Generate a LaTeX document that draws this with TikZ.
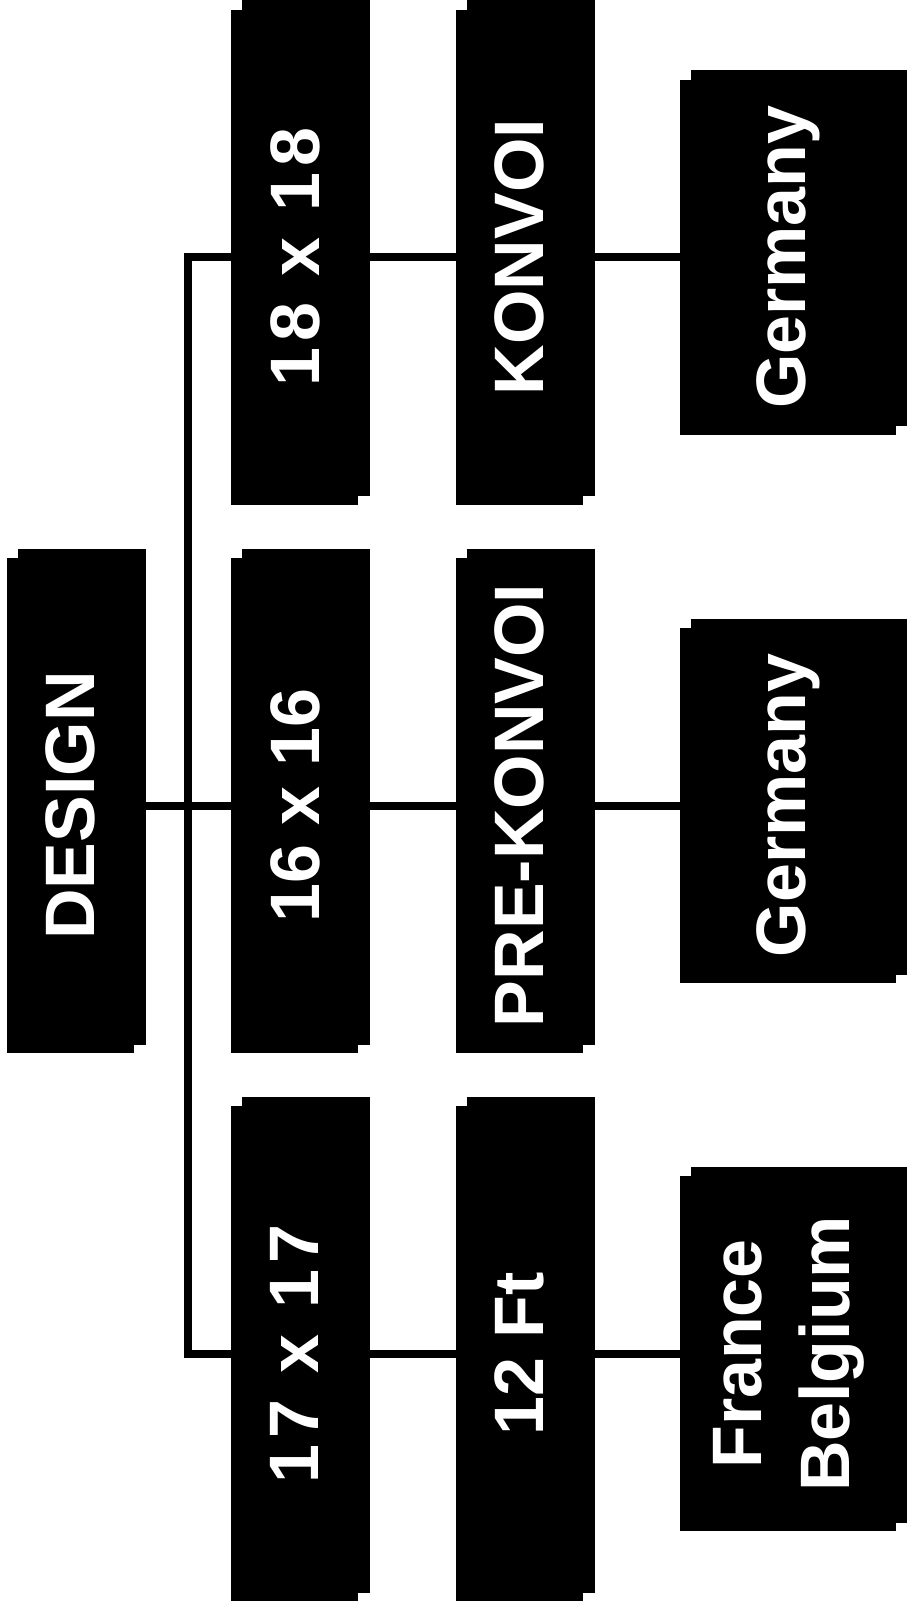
\documentclass[tikz,border=0pt]{standalone}
\usepackage{fontspec}
\setmainfont{Liberation Sans}
\usepackage{graphicx}
\usetikzlibrary{positioning, shadows}
\newcommand{\turn}[1]{\rotatebox{90}{#1}}
\newcommand{\spread}{\addfontfeature{LetterSpace=9}}
\tikzset{
	every node/.append style={
		inner sep=0pt,
	},
	block/.append style={
		fill=black,
		text=white,
		align=center,
		font={\fontsize{70}{88}\selectfont\bfseries},
		minimum width=127pt,
		minimum height=495pt,
		copy shadow={shadow xshift=11pt, shadow yshift=9pt, fill=black},
	},
	country/.append style={
		block,
		minimum width=216pt,
		minimum height=355pt,
	},
	wire/.append style={
		line width=8pt,
	},
}

\begin{document}
\begin{tikzpicture}[x=1pt, y=-1pt]
\useasboundingbox (0,0) rectangle (906,1611);

\node(design)[block] at (70.5,805.5) {\turn{DESIGN}};

\node(s16)[block, right=97pt of design]{\turn{16 x 16}};
\node(s18)[block, above=53pt of s16]{\turn{\spread 18 x 18}};
\node(s17)[block, below=53pt of s16]{\turn{\spread 17 x 17}};

\node(pre)[block, right=97pt of s16]{\turn{PRE-KONVOI}};
\node(konvoi)[block, right=97pt of s18]{\turn{KONVOI}};
\node(ft12)[block, right=97pt of s17]{\turn{12 Ft}};

\node(de2)[country, right=97pt of pre]{\turn{Germany}};
\node(de1)[country, right=97pt of konvoi]{\turn{Germany}};
\node(fb)[country, right=97pt of ft12]{\turn{\begin{tabular}{@{}c@{}}France\\Belgium\end{tabular}}};

\coordinate(fork) at (188,805.5);

\draw[wire] (design) -- (fork);
\draw[wire] (s18.west) -- (s18.west -| fork) -- (s17.west -| fork) -- (s17.west);
\draw[wire] (fork) -- (s16);

\draw[wire] (s18) -- (konvoi) -- (de1);
\draw[wire] (s16) -- (pre) -- (de2);
\draw[wire] (s17) -- (ft12) -- (fb);

\end{tikzpicture}
\end{document}
